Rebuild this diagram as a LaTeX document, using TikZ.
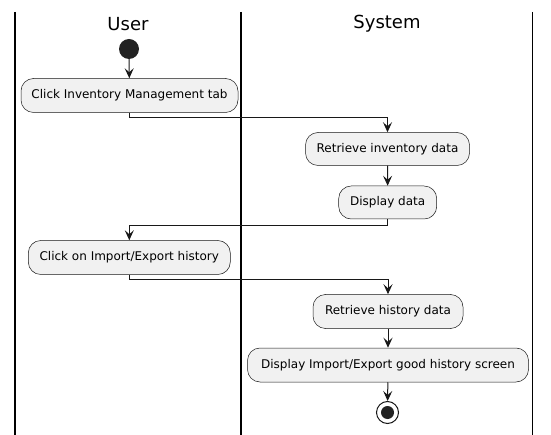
\documentclass[tikz,border=0pt]{standalone}
\usepackage{fontspec}
\setmainfont{DejaVu Sans}
\usetikzlibrary{arrows.meta}
\definecolor{boxfill}{HTML}{F1F1F1}
\definecolor{ink}{HTML}{181818}
\definecolor{dot}{HTML}{222222}
\tikzset{
  act/.style={draw=ink, line width=0.5pt, fill=boxfill, rounded corners=12.5pt,
    minimum height=34pt, inner sep=0pt, font=\fontsize{12}{14}\selectfont},
  flow/.style={draw=ink, line width=1pt, -{Stealth[length=10pt,width=9pt,inset=4pt]}},
  lane/.style={draw=black, line width=1.5pt},
  title/.style={font=\fontsize{18}{21}\selectfont, inner sep=0pt}
}
\begin{document}
\begin{tikzpicture}[x=1pt,y=-1pt]
\useasboundingbox (0,0) rectangle (551,435);
% lanes
\coordinate (l1t) at (15,12); \coordinate (l1b) at (15,435);
\coordinate (l2t) at (241,12); \coordinate (l2b) at (241,435);
\coordinate (l3t) at (532.5,12); \coordinate (l3b) at (532.5,435);
\draw[lane] (l1t) -- (l1b);
\draw[lane] (l2t) -- (l2b);
\draw[lane] (l3t) -- (l3b);
\node[title] (tu) at (128,24) {User};
\node[title] (ts) at (387,24) {System};
% nodes
\node[circle, fill=dot, minimum size=20pt, inner sep=0pt] (start) at (129,49) {};
\node[act, minimum width=217pt] (b1) at (129.5,95.5) {Click Inventory Management tab};
\node[act, minimum width=164pt, minimum height=33pt] (b2) at (387.5,149) {Retrieve inventory data};
\node[act, minimum width=98pt, minimum height=33pt] (b3) at (387.7,202.5) {Display data};
\node[act, minimum width=202pt] (b4) at (129.3,257.5) {Click on Import/Export history};
\node[act, minimum width=150pt] (b5) at (388,311.5) {Retrieve history data};
\node[act, minimum width=281pt] (b6) at (388,365) {Display Import/Export good history screen};
\node[circle, draw=ink, line width=1pt, fill=white, minimum size=22pt, inner sep=0pt] (end) at (387.5,412.5) {};
\node[circle, fill=dot, minimum size=13pt, inner sep=0pt] (endin) at (end) {};
% connectors
\draw[flow] (start) -- (b1);
\draw[flow] (b1.south) -- ++(0,5) -| (b2.north);
\draw[flow] (b2) -- (b3);
\draw[flow] (b3.south) -- ++(0,6.5) -| (b4.north);
\draw[flow] (b4.south) -- ++(0,5) -| (b5.north);
\draw[flow] (b5) -- (b6);
\draw[flow] (b6) -- (end);
\end{tikzpicture}
\end{document}
